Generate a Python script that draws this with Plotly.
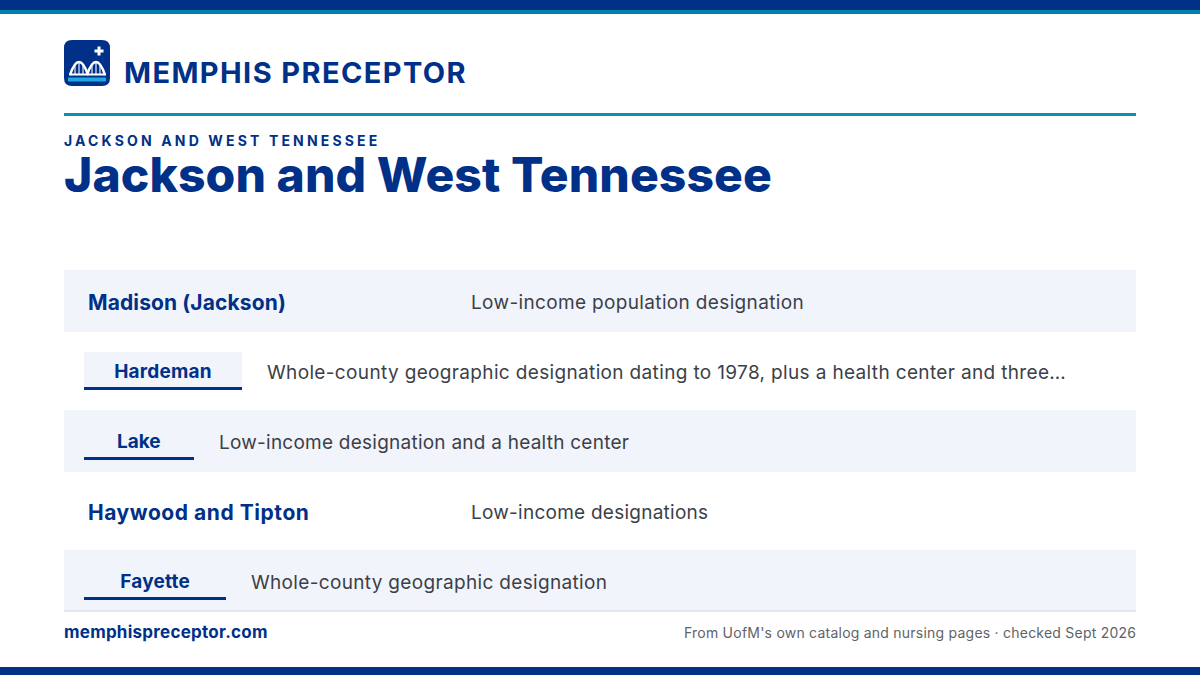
import json
import plotly.graph_objects as go

NAVY = "#003087"
TEAL = "#0082A8"
RULE_TEAL = "#0C8FAF"
ROW_BG = "#F1F4FA"
INK = "#3C3F48"
W, H = 1200, 675

brand = "MEMPHIS PRECEPTOR"
eyebrow = "JACKSON AND WEST TENNESSEE"
headline = "Jackson and West Tennessee"
site = "memphispreceptor.com"
source = "From UofM's own catalog and nursing pages · checked Sept 2026"

counties = ["Madison (Jackson)", "Hardeman", "Lake", "Haywood and Tipton", "Fayette"]
notes = [
    "Low-income population designation",
    "Whole-county geographic designation dating to 1978, plus a health center and three…",
    "Low-income designation and a health center",
    "Low-income designations",
    "Whole-county geographic designation",
]

SANS = "Inter, 'Noto Sans', sans-serif"

row_top = [270, 340, 410, 480, 550]
row_h = [62, 62, 62, 62, 60]
shaded = [True, False, True, False, True]
# rows with a chip have an underlined label box: (left, right), the rest are plain
chip = [None, (84, 242), (84, 194), None, (84, 226)]
note_x = [471, 267, 219, 471, 251]
county_track = [0.12, 0.2, 0.0, 0.55, 0.2]
note_track = [0.35, 0.35, 0.24, 0.25, 0.33]


def rect(x0, y0, x1, y1, color, layer="below"):
    return dict(type="rect", x0=x0, y0=y0, x1=x1, y1=y1,
                fillcolor=color, line_width=0, layer=layer)


def label(x, y, text, size, color, weight=400, anchor="left"):
    return dict(x=x, y=y, text=text, showarrow=False, xanchor=anchor, yanchor="middle",
                xref="x", yref="y", align=anchor, borderpad=0, borderwidth=0,
                font=dict(family=SANS, size=size, color=color, weight=weight))


def stroke(path, width=1.0, color="white"):
    return dict(type="path", path=path, fillcolor="rgba(0,0,0,0)",
                line=dict(color=color, width=width))


def logo_shapes():
    shapes = [
        dict(type="path", fillcolor=NAVY, line_width=0,
             path="M 72 40 H 102 Q 110 40 110 48 V 78 Q 110 86 102 86 H 72 Q 64 86 64 78 V 48 Q 64 40 72 40 Z"),
        rect(97.5, 46.5, 100.5, 55.5, "white", "above"),
        rect(94.5, 49.5, 103.5, 52.5, "white", "above"),
        rect(68, 77.5, 106, 81.5, "#1EA7E1", "above"),
        rect(69, 73.5, 106, 75.5, "white", "above"),
    ]
    # twin bridge arches with hangers
    for start in (70, 87):
        shapes.append(stroke("M %d 75 C %d 66 %d 62 %d 62 C %d 62 %d 66 %d 75"
                             % (start, start + 3, start + 6, start + 9,
                                start + 12, start + 15, start + 18), 2.4))
        for dx in (5, 9, 13):
            top = 62 if dx == 9 else 65
            shapes.append(stroke("M %d %d V 75" % (start + dx, top), 1.1))
    return shapes


shapes = [
    rect(0, 0, W, 10, NAVY),
    rect(0, 10, W, 14, TEAL),
    rect(64, 113, 1136, 116, RULE_TEAL),
    rect(0, 667, W, 675, NAVY),
]
annotations = [
    label(124, 72, brand, 29, NAVY, 700),
    label(64, 140, eyebrow, 14, NAVY, 700),
    label(64, 174, headline, 48, NAVY, 800),
    label(64, 632, site, 17, NAVY, 700),
    label(1136, 632, source, 14, "#5F6368", 400, "right"),
]
tracking = {brand: 1.4, eyebrow: 3.15, headline: 0.1, site: 0.25, source: 0.23}

for i, county in enumerate(counties):
    top = row_top[i]
    if shaded[i]:
        shapes.append(rect(64, top, 1136, top + row_h[i], ROW_BG))
    mid = top + 31
    if chip[i]:
        left, right = chip[i]
        if not shaded[i]:
            shapes.append(rect(left, top + 12, right, top + 48, ROW_BG))
        shapes.append(rect(left, top + 47, right, top + 50, NAVY))
        annotations.append(label((left + right) / 2, mid, county, 19, NAVY, 700, "center"))
    else:
        annotations.append(label(88, mid + 1, county, 21, NAVY, 700))
    tracking[county] = county_track[i]
    annotations.append(label(note_x[i], mid + 1, notes[i], 19, INK))
    tracking[notes[i]] = note_track[i]

shapes.append(rect(64, 610, 1136, 612, "#E2E5EA"))

fig = go.Figure()
fig.update_layout(
    width=W, height=H,
    margin=dict(l=0, r=0, t=0, b=0),
    paper_bgcolor="white", plot_bgcolor="white",
    showlegend=False,
    shapes=shapes + logo_shapes(),
    annotations=annotations,
)
fig.update_xaxes(visible=False, range=[0, W])
fig.update_yaxes(visible=False, range=[H, 0])

# plain page, and the tracked-out text that plotly has no font option for
post = """
document.body.style.margin = '0';
document.body.style.overflow = 'hidden';
var tracking = %s;
document.querySelectorAll('.annotation-text').forEach(function (t) {
  var s = tracking[t.textContent];
  if (s) t.style.letterSpacing = s + 'px';
});
""" % json.dumps(tracking)
fig.write_html("out.html", post_script=post, config={"displayModeBar": False})
